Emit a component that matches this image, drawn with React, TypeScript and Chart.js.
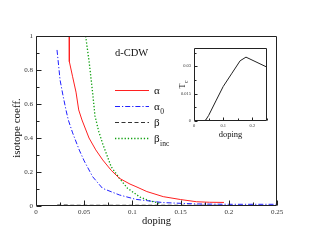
import React, { useEffect, useRef } from "react";
import { Chart, registerables } from "chart.js";
Chart.register(...registerables);

const FONT = "'Liberation Serif', 'Times New Roman', serif";

// ---- main panel data ----
const alphaX = [0.0345, 0.0346, 0.038, 0.0415, 0.0443, 0.0477, 0.055, 0.062, 0.0692, 0.078, 0.0865, 0.0975, 0.1037, 0.115, 0.132, 0.15, 0.1667, 0.18, 0.195];
const alphaY = [1.0, 0.849, 0.76, 0.67, 0.565, 0.506, 0.4, 0.33, 0.271, 0.21, 0.163, 0.129, 0.114, 0.085, 0.055, 0.038, 0.025, 0.022, 0.021];

const alpha0X = [0.0218, 0.025, 0.028, 0.0311, 0.0335, 0.038, 0.0449, 0.05, 0.0588, 0.069, 0.0865, 0.1037, 0.132, 0.1667, 0.2, 0.25];
const alpha0Y = [0.918, 0.74, 0.65, 0.565, 0.506, 0.43, 0.329, 0.265, 0.172, 0.104, 0.065, 0.039, 0.02, 0.012, 0.01, 0.01];

const betaX = [0.022, 0.1, 0.25];
const betaY = [0.005, 0.004, 0.003];

const betaIncX = [0.0515, 0.0553, 0.0588, 0.0612, 0.065, 0.069, 0.078, 0.0865, 0.095, 0.101, 0.108, 0.118, 0.1286];
const betaIncY = [1.0, 0.84, 0.663, 0.53, 0.44, 0.369, 0.231, 0.163, 0.104, 0.08, 0.052, 0.03, 0.016];

const seriesNames = ["α", "α", "β", "β"];
const seriesSubs = ["", "0", "", "inc"];
const panelLabel = "d-CDW";
const xTitle = "doping";
const yTitle = "isotope coeff.";

const xTicks = [0, 0.05, 0.1, 0.15, 0.2, 0.25];
const xTickLabels = ["0", "0.05", "0.1", "0.15", "0.2", "0.25"];
const xMinor = [0.025, 0.075, 0.125, 0.175, 0.225];
const yTicks = [0, 0.2, 0.4, 0.6, 0.8, 1];
const yTickLabels = ["0", "0.2", "0.4", "0.6", "0.8", "1"];
const yMinor = [0.1, 0.3, 0.5, 0.7, 0.9];

// ---- inset data ----
const tcX = [0.031, 0.04, 0.05, 0.075, 0.1, 0.13, 0.158, 0.178, 0.25];
const tcY = [0, 0.0005, 0.003, 0.011, 0.0189, 0.0262, 0.033, 0.035, 0.0295];
const insetXTicks = [0, 0.1, 0.2];
const insetXTickLabels = ["0", "0.1", "0.2"];
const insetXMinor = [0.05, 0.15, 0.25];
const insetYTicks = [0, 0.015, 0.03];
const insetYTickLabels = ["0", "0.015", "0.03"];
const insetYMinor = [0.0075, 0.0225, 0.0375];
const insetXTitle = "doping";
const insetYTitle = "T";
const insetYSub = "c";

const zip = (xs: number[], ys: number[]) => xs.map((x, i) => ({ x, y: ys[i] }));

function framePlugin(id: string, xMaj: number[], xMin: number[], yMaj: number[], yMin: number[], majLen: number, minLen: number) {
  return {
    id,
    afterDatasetsDraw(chart: any) {
      const { ctx, chartArea: a, scales } = chart;
      const xs = scales.x, ys = scales.y;
      ctx.save();
      ctx.strokeStyle = "#222";
      ctx.lineWidth = 1;
      ctx.setLineDash([]);
      ctx.beginPath();
      const L = Math.round(a.left) + 0.5, R = Math.round(a.right) - 0.5;
      const T = Math.round(a.top) + 0.5, B = Math.round(a.bottom) - 0.5;
      ctx.rect(L, T, R - L, B - T);
      ctx.stroke();
      ctx.beginPath();
      const xt = (v: number, len: number) => {
        const p = Math.round(xs.getPixelForValue(v)) + 0.5;
        ctx.moveTo(p, B);
        ctx.lineTo(p, B - len);
      };
      const yt = (v: number, len: number) => {
        const p = Math.round(ys.getPixelForValue(v)) + 0.5;
        ctx.moveTo(L, p);
        ctx.lineTo(L + len, p);
      };
      xMaj.forEach((v) => xt(v, majLen));
      xMin.forEach((v) => xt(v, minLen));
      yMaj.forEach((v) => yt(v, majLen));
      yMin.forEach((v) => yt(v, minLen));
      ctx.stroke();
      ctx.restore();
    },
  };
}

const mainTextPlugin = {
  id: "mainText",
  afterDatasetsDraw(chart: any) {
    const { ctx } = chart;
    ctx.save();
    ctx.fillStyle = "#111";
    ctx.font = `10.5px ${FONT}`;
    ctx.textAlign = "left";
    ctx.textBaseline = "alphabetic";
    ctx.fillText(panelLabel, 115, 55.5);
    chart.data.datasets.forEach((ds: any, i: number) => {
      const y = 90 + i * 16;
      ctx.save();
      ctx.strokeStyle = ds.borderColor;
      ctx.lineWidth = ds.borderWidth;
      ctx.setLineDash(ds.borderDash || []);
      ctx.beginPath();
      ctx.moveTo(115, y + 0.5);
      ctx.lineTo(149, y + 0.5);
      ctx.stroke();
      ctx.restore();
      ctx.font = `11px ${FONT}`;
      ctx.fillText(seriesNames[i], 154, y + 3.5);
      const w = ctx.measureText(seriesNames[i]).width;
      if (seriesSubs[i]) {
        ctx.font = `7.5px ${FONT}`;
        ctx.fillText(seriesSubs[i], 154 + w + 0.5, y + 8);
      }
    });
    ctx.save();
    ctx.translate(17, 128);
    ctx.rotate(-Math.PI / 2);
    ctx.font = `11px ${FONT}`;
    ctx.textAlign = "center";
    ctx.textBaseline = "middle";
    ctx.fillText(yTitle, 0, 0);
    ctx.restore();
    ctx.restore();
  },
};

const insetTextPlugin = {
  id: "insetText",
  afterDatasetsDraw(chart: any) {
    const { ctx } = chart;
    ctx.save();
    ctx.fillStyle = "#111";
    ctx.translate(25, 45);
    ctx.rotate(-Math.PI / 2);
    ctx.font = `8px ${FONT}`;
    ctx.textAlign = "left";
    ctx.textBaseline = "alphabetic";
    const w = ctx.measureText(insetYTitle).width;
    ctx.fillText(insetYTitle, -w / 2 - 1, 0);
    ctx.font = `5.5px ${FONT}`;
    ctx.fillText(insetYSub, w / 2 - 0.5, 2.5);
    ctx.restore();
  },
};

export default function App() {
  const mainRef = useRef<HTMLCanvasElement | null>(null);
  const insetRef = useRef<HTMLCanvasElement | null>(null);

  useEffect(() => {
    const tickFont = { family: FONT, size: 7 };
    const main = new Chart(mainRef.current as HTMLCanvasElement, {
      type: "line",
      data: {
        datasets: [
          { label: "alpha", data: zip(alphaX, alphaY), borderColor: "#ff2020", borderWidth: 1, borderDash: [] },
          { label: "alpha0", data: zip(alpha0X, alpha0Y), borderColor: "#2020ff", borderWidth: 1, borderDash: [5, 2, 1.2, 2] },
          { label: "beta", data: zip(betaX, betaY), borderColor: "#333", borderWidth: 1.1, borderDash: [4, 2.5] },
          { label: "betaInc", data: zip(betaIncX, betaIncY), borderColor: "#10a010", borderWidth: 1.3, borderDash: [1.3, 1.9] },
        ] as any,
      },
      options: {
        animation: false,
        responsive: false,
        devicePixelRatio: 1,
        parsing: false as any,
        elements: { point: { radius: 0 }, line: { tension: 0 } },
        layout: { padding: { left: 0, top: 36, right: 37, bottom: 0 } },
        plugins: { legend: { display: false }, tooltip: { enabled: false } },
        scales: {
          x: {
            type: "linear",
            min: 0,
            max: 0.25,
            grid: { display: false, drawTicks: false },
            border: { display: false },
            afterBuildTicks: (s: any) => { s.ticks = xTicks.map((v) => ({ value: v })); },
            afterFit: (s: any) => { s.height = 37; },
            ticks: {
              autoSkip: false,
              maxRotation: 0,
              padding: 2,
              color: "#333",
              font: tickFont,
              callback: (_v: any, i: number) => xTickLabels[i],
            },
            title: {
              display: true,
              text: xTitle,
              color: "#111",
              font: { family: FONT, size: 10.5 },
              padding: { top: 0, bottom: 15.2 },
            },
          },
          y: {
            type: "linear",
            min: 0,
            max: 1,
            grid: { display: false, drawTicks: false },
            border: { display: false },
            afterBuildTicks: (s: any) => { s.ticks = yTicks.map((v) => ({ value: v })); },
            afterFit: (s: any) => { s.width = 36; },
            ticks: {
              autoSkip: false,
              padding: 3,
              color: "#333",
              font: tickFont,
              callback: (_v: any, i: number) => yTickLabels[i],
            },
          },
        },
      } as any,
      plugins: [framePlugin("mainFrame", xTicks, xMinor, yTicks, yMinor, 5, 3), mainTextPlugin],
    });

    const insetFont = { family: FONT, size: 4.5 };
    const inset = new Chart(insetRef.current as HTMLCanvasElement, {
      type: "line",
      data: {
        datasets: [
          { label: "Tc", data: zip(tcX, tcY), borderColor: "#222", borderWidth: 1 },
        ] as any,
      },
      options: {
        animation: false,
        responsive: false,
        devicePixelRatio: 1,
        parsing: false as any,
        elements: { point: { radius: 0 }, line: { tension: 0 } },
        layout: { padding: { left: 0, top: 8, right: 8, bottom: 0 } },
        plugins: { legend: { display: false }, tooltip: { enabled: false } },
        scales: {
          x: {
            type: "linear",
            min: 0,
            max: 0.25,
            grid: { display: false, drawTicks: false },
            border: { display: false },
            afterBuildTicks: (s: any) => { s.ticks = insetXTicks.map((v) => ({ value: v })); },
            afterFit: (s: any) => { s.height = 24; },
            ticks: {
              autoSkip: false,
              maxRotation: 0,
              padding: 2.5,
              color: "#333",
              font: insetFont,
              callback: (_v: any, i: number) => insetXTickLabels[i],
            },
            title: {
              display: true,
              text: insetXTitle,
              color: "#111",
              font: { family: FONT, size: 8.5 },
              padding: { top: 0, bottom: 5.6 },
            },
          },
          y: {
            type: "linear",
            min: 0,
            max: 0.04,
            grid: { display: false, drawTicks: false },
            border: { display: false },
            afterBuildTicks: (s: any) => { s.ticks = insetYTicks.map((v) => ({ value: v })); },
            afterFit: (s: any) => { s.width = 34; },
            ticks: {
              autoSkip: false,
              padding: 3,
              color: "#333",
              font: insetFont,
              callback: (_v: any, i: number) => insetYTickLabels[i],
            },
          },
        },
      } as any,
      plugins: [framePlugin("insetFrame", insetXTicks, insetXMinor, insetYTicks, insetYMinor, 3, 2), insetTextPlugin],
    });

    return () => {
      main.destroy();
      inset.destroy();
    };
  }, []);

  return (
    <div style={{ position: "absolute", left: 0, top: 0, width: 314, height: 243, background: "#fff" }}>
      <canvas ref={mainRef} width={314} height={243} style={{ position: "absolute", left: 0, top: 0, width: 314, height: 243 }} />
      <canvas ref={insetRef} width={115} height={105} style={{ position: "absolute", left: 160, top: 40, width: 115, height: 105 }} />
    </div>
  );
}
